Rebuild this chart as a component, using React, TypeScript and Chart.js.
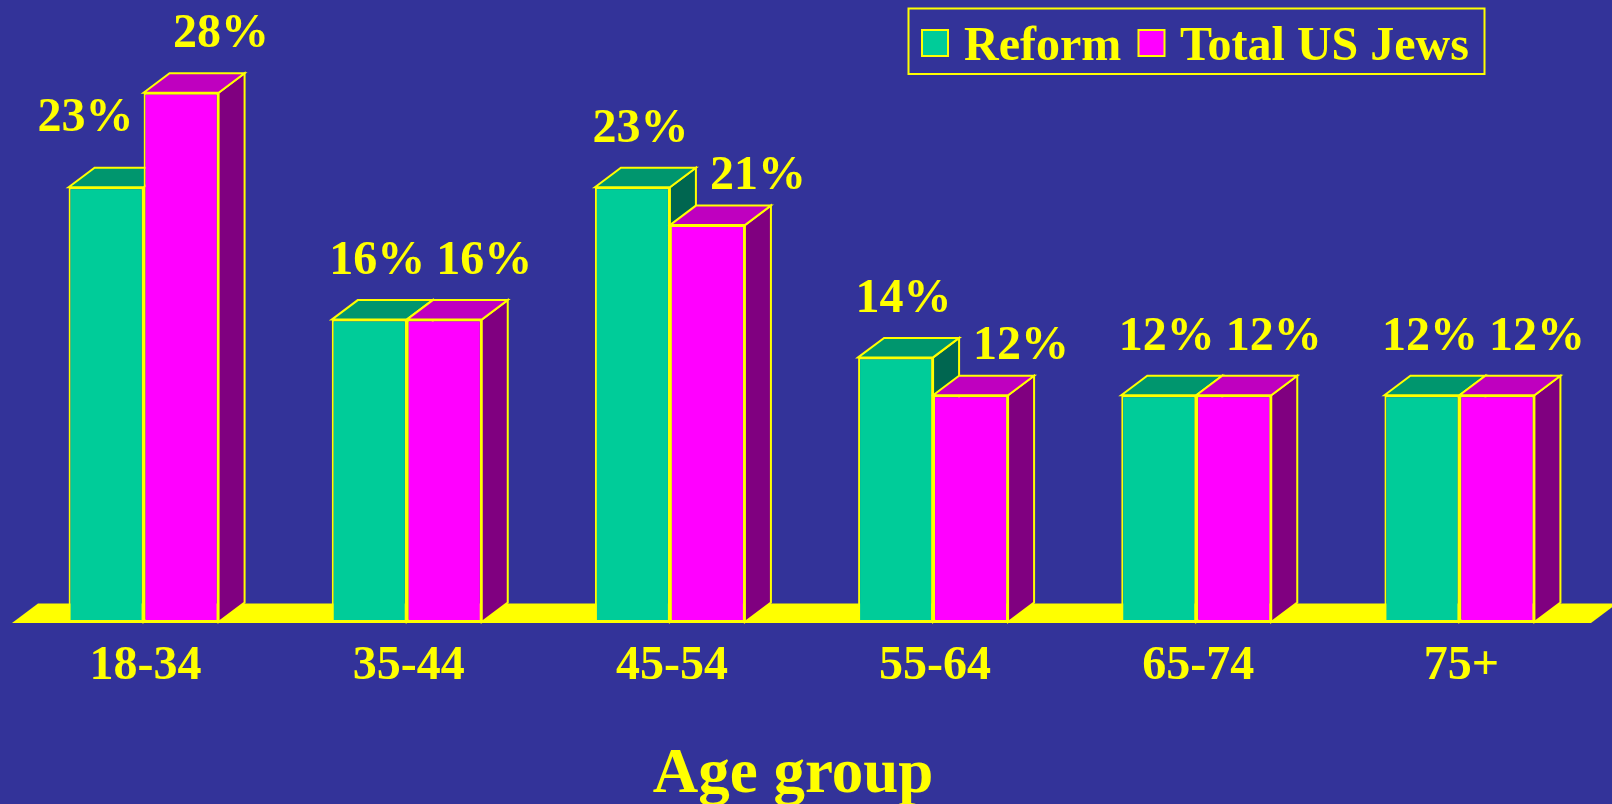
import { useEffect, useRef } from 'react';
import { Chart, registerables } from 'chart.js';

Chart.register(...registerables);

// ---- data ----
const ageGroups = ['18-34', '35-44', '45-54', '55-64', '65-74', '75+'];
const reformValues = [23, 16, 23, 14, 12, 12];
const totalUsJewsValues = [28, 16, 21, 12, 12, 12];
const seriesNames = ['Reform', 'Total US Jews'];
const axisTitle = 'Age group';
const yMin = 0;
const yMax = 30;

// ---- style ----
const BG = '#333399';
const YELLOW = '#FFFF00';
const FRONT = ['#00CC99', '#FF00FF'];
const TOP = ['#00966E', '#BF00BF'];
const SIDE = ['#006650', '#800080'];
const DX = 26;
const DY = 19.5;
const SERIF = '"Liberation Serif", "Times New Roman", serif';

function poly(ctx: CanvasRenderingContext2D, pts: number[][], fill: string) {
  ctx.beginPath();
  ctx.moveTo(pts[0][0], pts[0][1]);
  for (let k = 1; k < pts.length; k++) ctx.lineTo(pts[k][0], pts[k][1]);
  ctx.closePath();
  ctx.fillStyle = fill;
  ctx.fill();
  ctx.lineWidth = 2;
  ctx.strokeStyle = YELLOW;
  ctx.stroke();
}

function barGeom(chart: any, d: number, i: number) {
  const el = chart.getDatasetMeta(d).data[i];
  const p = el.getProps(['x', 'y', 'width', 'base'], true);
  return { x: p.x, y: p.y, w: p.width, x0: p.x - p.width / 2, x1: p.x + p.width / 2 };
}

const threeDPlugin = {
  id: 'threeD',
  beforeDraw(chart: any) {
    const { ctx, width, height } = chart;
    ctx.save();
    ctx.fillStyle = BG;
    ctx.fillRect(0, 0, width, height);
    ctx.restore();
  },
  beforeDatasetsDraw(chart: any) {
    const { ctx, chartArea } = chart;
    const base = chart.scales.y.getPixelForValue(0);
    ctx.save();
    // floor
    ctx.fillStyle = YELLOW;
    ctx.beginPath();
    ctx.moveTo(chartArea.left, base + 1);
    ctx.lineTo(chartArea.right, base + 1);
    ctx.lineTo(chartArea.right + DX, base + 1 - DY);
    ctx.lineTo(chartArea.left + DX, base + 1 - DY);
    ctx.closePath();
    ctx.fill();
    // side + top faces
    for (let i = 0; i < ageGroups.length; i++) {
      for (let d = 0; d < 2; d++) {
        const g = barGeom(chart, d, i);
        poly(ctx, [[g.x1, g.y], [g.x1 + DX, g.y - DY], [g.x1 + DX, base - DY], [g.x1, base]], SIDE[d]);
        poly(ctx, [[g.x0, g.y], [g.x0 + DX, g.y - DY], [g.x1 + DX, g.y - DY], [g.x1, g.y]], TOP[d]);
      }
    }
    ctx.restore();
  },
  afterDatasetsDraw(chart: any) {
    const { ctx } = chart;
    const xScale = chart.scales.x;
    ctx.save();
    ctx.fillStyle = YELLOW;
    ctx.textBaseline = 'alphabetic';
    ctx.textAlign = 'center';
    // value labels
    ctx.font = `bold 48px ${SERIF}`;
    for (let i = 0; i < ageGroups.length; i++) {
      const g = barGeom(chart, 0, i);
      const m = barGeom(chart, 1, i);
      const gText = reformValues[i] + '%';
      const mText = totalUsJewsValues[i] + '%';
      const W = ctx.measureText(gText).width;
      let gB = g.y - DY - 26;
      let mB = m.y - DY - 26;
      let gC = g.x + 8;
      let mC = m.x + 40;
      if (m.y - DY < gB) {
        gC = Math.min(gC, m.x0 - 10 - W / 2);
        gB = g.y - DY - 37;
      }
      if (g.y - DY < mB) {
        mC = Math.max(mC, g.x1 + DX + 14 + W / 2);
        mB = m.y - DY - 17;
      }
      if (Math.abs(gB - mB) < 36 && mC - gC < W + 4) mC = gC + W + 4;
      ctx.fillText(gText, gC, gB);
      ctx.fillText(mText, mC, mB);
    }
    // category labels
    for (let i = 0; i < ageGroups.length; i++) {
      ctx.fillText(ageGroups[i], xScale.getPixelForValue(i) + 2, 679);
    }
    // axis title
    ctx.font = `bold 63px ${SERIF}`;
    ctx.fillText(axisTitle, 793, 792);
    ctx.restore();
  },
  afterDraw(chart: any) {
    const { ctx } = chart;
    ctx.save();
    // legend box
    ctx.strokeStyle = YELLOW;
    ctx.lineWidth = 2;
    ctx.strokeRect(908.5, 8.5, 576, 65.5);
    const items = [
      { sq: 922, tx: 964 },
      { sq: 1138.5, tx: 1180 },
    ];
    ctx.font = `bold 48px ${SERIF}`;
    ctx.textAlign = 'left';
    ctx.textBaseline = 'alphabetic';
    for (let d = 0; d < 2; d++) {
      const it = items[d];
      ctx.fillStyle = FRONT[d];
      ctx.fillRect(it.sq, 30, 26, 26);
      ctx.strokeStyle = YELLOW;
      ctx.lineWidth = 2;
      ctx.strokeRect(it.sq, 30, 26, 26);
      ctx.fillStyle = YELLOW;
      ctx.fillText(seriesNames[d], it.tx, 59.5);
    }
    ctx.restore();
  },
};

export default function App() {
  const canvasRef = useRef<HTMLCanvasElement | null>(null);

  useEffect(() => {
    document.body.style.margin = '0';
    document.body.style.background = BG;
    document.body.style.overflow = 'hidden';
    const canvas = canvasRef.current;
    if (!canvas) return;
    const chart = new Chart(canvas, {
      type: 'bar',
      data: {
        labels: ageGroups,
        datasets: [
          {
            label: seriesNames[0],
            data: reformValues,
            backgroundColor: FRONT[0],
            borderColor: YELLOW,
            borderWidth: 2,
            borderSkipped: false,
            categoryPercentage: 0.57,
            barPercentage: 1,
          },
          {
            label: seriesNames[1],
            data: totalUsJewsValues,
            backgroundColor: FRONT[1],
            borderColor: YELLOW,
            borderWidth: 2,
            borderSkipped: false,
            categoryPercentage: 0.57,
            barPercentage: 1,
          },
        ],
      },
      options: {
        animation: false,
        responsive: false,
        devicePixelRatio: 1,
        layout: { padding: { left: 12, right: 21, top: 55, bottom: 182 } },
        scales: {
          x: { display: false },
          y: { display: false, min: yMin, max: yMax },
        },
        plugins: {
          legend: { display: false },
          tooltip: { enabled: false },
        },
      },
      plugins: [threeDPlugin],
    });
    return () => chart.destroy();
  }, []);

  return (
    <div style={{ width: 1612, height: 804, background: BG }}>
      <canvas ref={canvasRef} width={1612} height={804} style={{ display: 'block' }} />
    </div>
  );
}
